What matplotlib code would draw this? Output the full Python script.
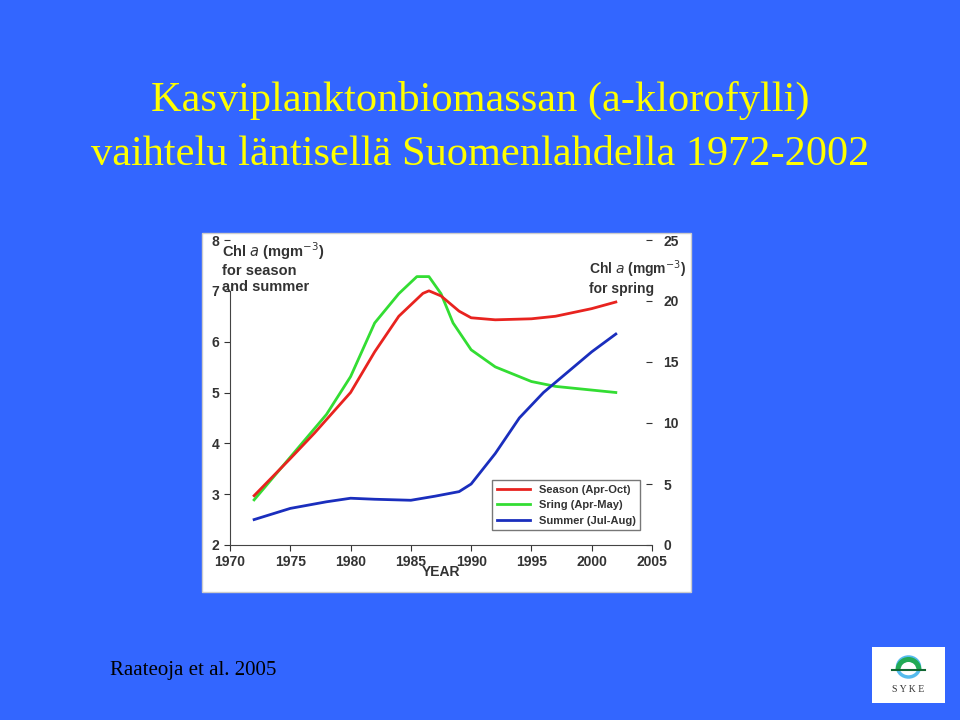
import matplotlib
matplotlib.use('Agg')
import matplotlib.pyplot as plt
from matplotlib.patches import Rectangle, Ellipse, Wedge

# season and summer chl a (left axis), spring chl a (right axis)
season_years = [1972, 1975, 1977, 1980, 1982, 1984, 1986, 1986.5, 1987.5, 1989, 1990, 1992, 1995, 1997, 2000, 2002]
season_vals = [2.97, 3.7, 4.2, 5.0, 5.8, 6.5, 6.95, 7.0, 6.9, 6.6, 6.47, 6.43, 6.45, 6.5, 6.65, 6.78]

spring_years = [1972, 1975, 1978, 1980, 1982, 1984, 1985.5, 1986.5, 1987.5, 1988.5, 1990, 1992, 1995, 1997, 2000, 2002]
spring_vals = [3.7, 7.2, 10.7, 13.8, 18.2, 20.6, 22.0, 22.0, 20.6, 18.2, 16.0, 14.6, 13.4, 13.0, 12.7, 12.5]

summer_years = [1972, 1975, 1978, 1980, 1982, 1985, 1987, 1989, 1990, 1992, 1994, 1996, 1998, 2000, 2002]
summer_vals = [2.5, 2.72, 2.85, 2.92, 2.9, 2.88, 2.96, 3.05, 3.2, 3.8, 4.5, 5.0, 5.4, 5.8, 6.15]

BG = '#3366FF'
fig = plt.figure(figsize=(9.6, 7.2), dpi=100, facecolor=BG)

# title and source
fig.text(0.5, 0.86, 'Kasviplanktonbiomassan (a-klorofylli)', ha='center', va='center',
         fontsize=30.5, color='#FFFF00', family='Liberation Serif')
fig.text(0.5, 0.785, 'vaihtelu läntisellä Suomenlahdella 1972-2002', ha='center', va='center',
         fontsize=30.5, color='#FFFF00', family='Liberation Serif')
fig.text(110 / 960, 1 - 670 / 720, 'Raateoja et al. 2005', ha='left', va='center',
         fontsize=15, color='black', family='Liberation Serif')

# white panel behind the chart
fig.patches.append(Rectangle((202 / 960, 1 - 592 / 720), 489 / 960, 359 / 720,
                             transform=fig.transFigure, facecolor='white', edgecolor='#cccccc', zorder=-5))

# logo
fig.patches.append(Rectangle((872 / 960, 1 - 703 / 720), 73 / 960, 56 / 720,
                             transform=fig.transFigure, facecolor='white', edgecolor='none', zorder=-5))
lax = fig.add_axes([872 / 960, 1 - 703 / 720, 73 / 960, 56 / 720])
lax.set_xlim(0, 73); lax.set_ylim(0, 56); lax.axis('off')
lax.add_patch(Ellipse((36.5, 36), 22, 20, facecolor='none', edgecolor='#55bbee', lw=2.5))
lax.add_patch(Wedge((36.5, 33), 13, 0, 180, facecolor='#22aa55', edgecolor='none', width=5))
lax.plot([20, 53], [33, 33], color='#116633', lw=1.5)
lax.text(36.5, 13, 'S Y K E', ha='center', va='center', fontsize=7, family='Liberation Serif', color='#333333')

# chart
ax = fig.add_axes([230 / 960, 1 - 545 / 720, 422 / 960, 305 / 720])
ax.plot(season_years, season_vals, color='#e8231f', lw=2, label='Season (Apr-Oct)')
ax.plot([], [], color='#33dd33', lw=2, label='Sring (Apr-May)')
ax.plot(summer_years, summer_vals, color='#1a2ebd', lw=2, label='Summer (Jul-Aug)')
ax.set_xlim(1970, 2005)
ax.set_ylim(2, 8)
ax.set_xticks(range(1970, 2006, 5))
ax.set_yticks(range(2, 9))
for s in ['top', 'right']:
    ax.spines[s].set_visible(False)
ax.spines['left'].set_bounds(2, 7)
ax.spines['left'].set_color('#444444')
ax.spines['bottom'].set_color('#444444')
ax.tick_params(colors='#333333', labelsize=10, length=4, direction='out')
for lbl in ax.get_xticklabels() + ax.get_yticklabels():
    lbl.set_fontweight('bold')
    lbl.set_family('Liberation Sans')
ax.set_xlabel('YEAR', fontsize=10, fontweight='bold', color='#333333', family='Liberation Sans', labelpad=-3)
ax.text(-0.018, 1.0, 'Chl $a$ (mgm$^{-3}$)\nfor season\nand summer', transform=ax.transAxes,
        ha='left', va='top', fontsize=10.5, fontweight='bold', color='#333333', family='Liberation Sans',
        linespacing=1.2)

ax2 = ax.twinx()
ax2.plot(spring_years, spring_vals, color='#33dd33', lw=2)
ax2.set_ylim(0, 25)
ax2.set_yticks(range(0, 26, 5))
for s in ['top', 'right', 'left', 'bottom']:
    ax2.spines[s].set_visible(False)
ax2.tick_params(colors='#333333', labelsize=10, length=4, direction='in', pad=8)
for lbl in ax2.get_yticklabels():
    lbl.set_fontweight('bold')
    lbl.set_family('Liberation Sans')
ax2.text(0.85, 0.94, 'Chl $a$ (mgm$^{-3}$)\nfor spring', transform=ax.transAxes,
         ha='left', va='top', fontsize=10, fontweight='bold', color='#333333', family='Liberation Sans',
         linespacing=1.2)
ax.set_zorder(ax2.get_zorder() + 1)
ax.patch.set_visible(False)

leg = ax.legend(loc='lower right', bbox_to_anchor=(0.985, 0.03), frameon=True,
                fancybox=False, edgecolor='#555555', handlelength=3,
                prop={'family': 'Liberation Sans', 'weight': 'bold', 'size': 8})
for t in leg.get_texts():
    t.set_color('#333333')

fig.savefig('out.png', dpi=100, facecolor=BG)
